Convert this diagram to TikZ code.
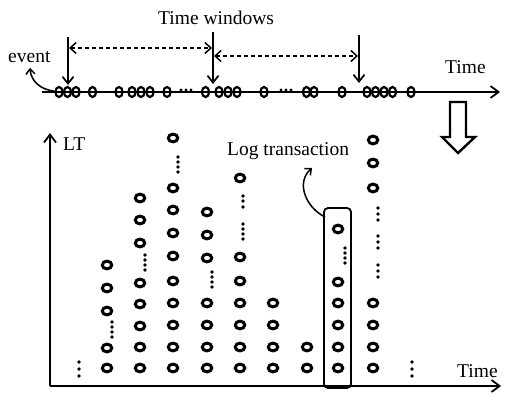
\documentclass[tikz,border=0pt]{standalone}
\usepackage{fontspec}
\setmainfont{Liberation Serif}
\usetikzlibrary{arrows.meta}
\begin{document}
\begin{tikzpicture}[x=1pt,y=-1pt,
  lbl/.style={inner sep=0pt, anchor=base west, font=\fontsize{19.5}{23}\selectfont},
  barb/.style={-{Straight Barb[length=7pt,width=11pt]}},
  dbarb/.style={{Straight Barb[length=6pt,width=11pt]}-{Straight Barb[length=6pt,width=11pt]}},
  axis/.style={line width=1.8pt},
  tcirc/.style={line width=2.2pt},
  bcirc/.style={line width=3pt},
  windarrow/.style={line width=1.5pt, dash pattern=on 4pt off 3pt}
]
\useasboundingbox (0,0) rectangle (505,396);
\fill[white] (0,0) rectangle (505,396);

% ---- labels
\node[lbl] (tw) at (158,25) {Time windows};
\node[lbl] (ev) at (8,62) {event};
\node[lbl] (tt) at (445,74) {Time};
\node[lbl] (lt) at (63,150) {LT};
\node[lbl] (lg) at (227,155) {Log transaction};
\node[lbl] (tb) at (457,377) {Time};

% ---- top time line
\coordinate (tl0) at (42,92);
\coordinate (tl1) at (500,92);
\draw[axis,-{Straight Barb[length=8pt,width=12pt]}] (tl0) -- (tl1);

\foreach \x in {59,67.5,76,92.5,119,132,141,150,167,205.5,219,228,237,264,306.5,314,342,367,375.5,384,392.5,411}
  \draw[tcirc] (\x,92) ellipse[x radius=3.6pt, y radius=5pt];
\foreach \x in {181,186,191,281,286,291}
  \fill (\x,90) circle[radius=1.7pt];

% ---- window marks
\coordinate (w1a) at (68,37);  \coordinate (w1b) at (68,85);
\coordinate (w2a) at (213,32); \coordinate (w2b) at (213,84);
\coordinate (w3a) at (359,35); \coordinate (w3b) at (359,83);
\draw[line width=1.7pt,barb] (w1a) -- (w1b);
\draw[line width=1.7pt,barb] (w2a) -- (w2b);
\draw[line width=1.7pt,barb] (w3a) -- (w3b);
\coordinate (d1a) at (69,48);  \coordinate (d1b) at (212,48);
\coordinate (d2a) at (214,56); \coordinate (d2b) at (358,56);
\draw[windarrow,dbarb] (d1a) -- (d1b);
\draw[windarrow,dbarb] (d2a) -- (d2b);

% ---- event arrow
\coordinate (evs) at (54,91);
\coordinate (evt) at (30,68);
\draw[line width=1.5pt,-{Straight Barb[length=5pt,width=9pt]}] (evs) .. controls (42,90) and (31,82) .. (evt);

% ---- hollow arrow
\draw[line width=2.4pt, line join=miter, fill=white]
  (450,102) -- (466,102) -- (466,137) -- (475,137) -- (458,153) -- (442,137) -- (450,137) -- cycle;

% ---- axes
\coordinate (O) at (50,386);
\coordinate (ytop) at (50,133);
\coordinate (xend) at (501,386);
\draw[axis,-{Straight Barb[length=8pt,width=12pt]}] (O) -- (ytop);
\draw[axis,-{Straight Barb[length=8pt,width=12pt]}] (O) -- (xend);

% ---- columns of log events
\foreach \x/\ys in {107/{265,288,311,348,368},
                    140/{198,220,243,283,304,326,347,368},
                    173/{138,188,210,233,256,281,303,325,347,368},
                    207/{212,235,258,303,325,347,368},
                    240/{178,257,281,303,325,347,368},
                    273/{303,325,347,368},
                    307/{347,368},
                    338/{229,282,303,325,347,368},
                    373/{140,163,188,303,325,347,368}}
  \foreach \y in \ys
    \draw[bcirc] (\x,\y) ellipse[x radius=4.7pt, y radius=3.9pt];

\foreach \x/\ys in {79/{362,369,376},
                    112/{322,327,332,337},
                    145/{255,260,265,270},
                    178/{157,162,167,172},
                    212/{272,277,282,287},
                    243/{196,201,207,224,229,234,239},
                    345/{248,253,258,263},
                    378/{208,214,220,236,242,248,265,271,277},
                    412/{362,369,376}}
  \foreach \y in \ys
    \fill (\x,\y) circle[radius=1.9pt];

% ---- log transaction box
\draw[line width=1.8pt, rounded corners=4pt] (324,208) rectangle (351,388);
\coordinate (bx) at (325,217);
\coordinate (bxt) at (312,168);
\draw[line width=1.5pt,-{Straight Barb[length=5pt,width=9pt]}] (bx) .. controls (305,207) and (296,182) .. (bxt);
\end{tikzpicture}
\end{document}
